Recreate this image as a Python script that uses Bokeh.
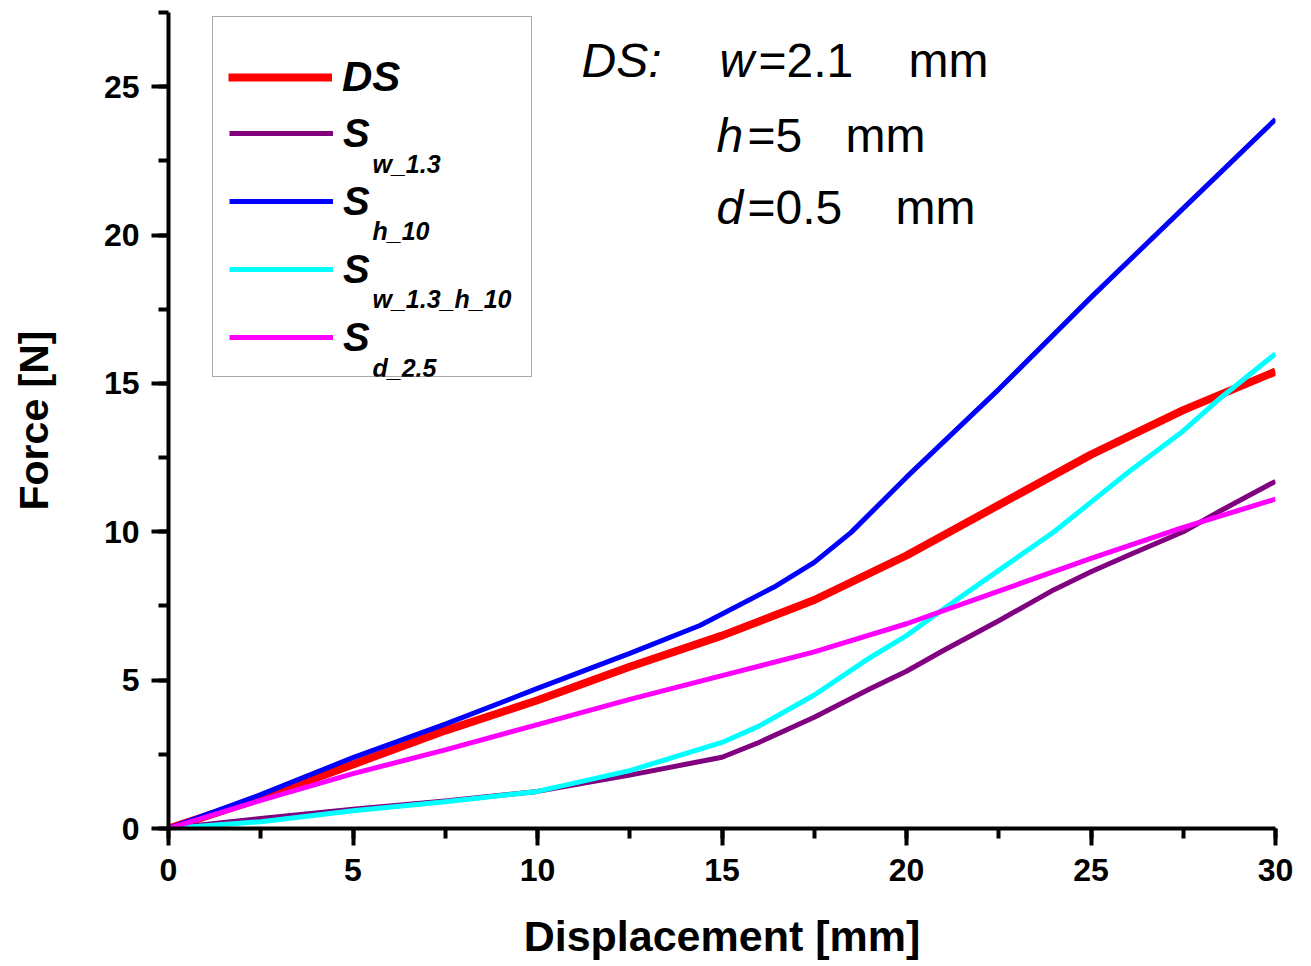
import math
from bokeh.plotting import figure
from bokeh.models import Range1d, SingleIntervalTicker, Legend, LegendItem, Label
from bokeh.embed import file_html
from bokeh.resources import INLINE

FONT = "Liberation Sans"

# ---- data ----
grid_x = [0, 2.5, 5, 7.5, 10, 12.5, 15, 17.5, 20, 22.5, 25, 27.5, 30]
ds_y = [0, 1.02, 2.16, 3.30, 4.32, 5.45, 6.50, 7.70, 9.20, 10.90, 12.60, 14.10, 15.40]
sd25_y = [0, 0.95, 1.85, 2.65, 3.50, 4.35, 5.15, 5.95, 6.90, 8.00, 9.10, 10.15, 11.10]

sh10_x = [0, 2.5, 5, 7.5, 10, 12.5, 14.4, 16.4, 17.5, 18.5, 20, 22.5, 25, 27.5, 30]
sh10_y = [0, 1.14, 2.39, 3.52, 4.72, 5.90, 6.84, 8.13, 8.97, 9.98, 11.84, 14.80, 17.90, 20.90, 23.90]

fine_x = [0, 2.5, 5, 7.5, 10, 12.5, 15, 16, 17.5, 19, 20, 21, 22.5, 24, 25, 26, 27.5, 28.5, 30]
sw13_y = [0, 0.34, 0.65, 0.93, 1.25, 1.80, 2.40, 2.90, 3.75, 4.70, 5.30, 6.00, 7.00, 8.05, 8.65, 9.20, 10.00, 10.70, 11.70]
sw13h10_y = [0, 0.23, 0.60, 0.90, 1.25, 1.95, 2.90, 3.45, 4.50, 5.75, 6.50, 7.40, 8.70, 10.00, 11.00, 12.00, 13.40, 14.50, 16.00]

x_ticks_interval = 5
y_ticks_interval = 5

# ---- figure ----
p = figure(width=1311, height=966, output_backend="svg", toolbar_location=None,
           x_range=Range1d(0, 30), y_range=Range1d(0, 27.5),
           min_border_left=168, min_border_right=36, min_border_top=12, min_border_bottom=138)
p.grid.visible = False
p.outline_line_color = None

for ax, iv in ((p.xaxis[0], x_ticks_interval), (p.yaxis[0], y_ticks_interval)):
    ax.ticker = SingleIntervalTicker(interval=iv, num_minor_ticks=2)
    ax.axis_line_width = 4
    ax.axis_line_color = "black"
    ax.major_tick_line_width = 4
    ax.minor_tick_line_width = 4
    ax.major_tick_line_color = "black"
    ax.minor_tick_line_color = "black"
    ax.major_tick_in = 0
    ax.minor_tick_in = 0
    ax.major_tick_out = 17
    ax.minor_tick_out = 10
    ax.major_label_text_font = FONT
    ax.major_label_text_font_size = "32px"
    ax.major_label_text_font_style = "bold"
    ax.major_label_text_color = "black"
    ax.axis_label_text_font = FONT
    ax.axis_label_text_font_style = "bold"
    ax.axis_label_text_color = "black"

p.xaxis.major_label_standoff = 13
p.yaxis.major_label_standoff = 12
p.xaxis.axis_label = "Displacement [mm]"
p.xaxis.axis_label_text_font_size = "43px"
p.xaxis.axis_label_standoff = 28
p.yaxis.axis_label = "Force [N]"
p.yaxis.axis_label_text_font_size = "41px"
p.yaxis.axis_label_standoff = 44

# ---- curves ----
r_ds = p.line(grid_x, ds_y, line_color="#FF0000", line_width=8, line_join="round")
r_w = p.line(fine_x, sw13_y, line_color="#800080", line_width=5, line_join="round")
r_h = p.line(sh10_x, sh10_y, line_color="#0000FF", line_width=5, line_join="round")
r_wh = p.line(fine_x, sw13h10_y, line_color="#00FFFF", line_width=5, line_join="round")
r_d = p.line(grid_x, sd25_y, line_color="#FF00FF", line_width=5, line_join="round")

# ---- legend ----
legA = Legend(items=[LegendItem(label="S", renderers=[r_w]),
                     LegendItem(label="S", renderers=[r_h]),
                     LegendItem(label="S", renderers=[r_wh]),
                     LegendItem(label="S", renderers=[r_d])],
              location=(44, 451), padding=16, spacing=22, margin=0,
              glyph_width=104, glyph_height=46, label_height=46, label_width=172,
              label_standoff=10, label_text_font=FONT, label_text_font_size="40px",
              label_text_font_style="bold italic", label_text_color="black",
              border_line_color="#555555", border_line_width=1.5,
              background_fill_color="white", background_fill_alpha=0.0,
              title=" ", title_text_font_size="10px", title_standoff=66)
legB = Legend(items=[LegendItem(label="DS", renderers=[r_ds])],
              location=(60, 727), padding=0, spacing=0, margin=0,
              glyph_width=104, glyph_height=46, label_height=46,
              label_standoff=10, label_text_font=FONT, label_text_font_size="42px",
              label_text_font_style="bold italic", label_text_color="black",
              border_line_color=None, background_fill_alpha=0.0)
p.add_layout(legA)
p.add_layout(legB)


def dx(px):
    return (px - 168) / 36.9


def dy(py):
    return (828 - py) / 29.68


subs = [("w_1.3", 163), ("h_10", 230), ("w_1.3_h_10", 298), ("d_2.5", 367)]
for txt, base in subs:
    p.add_layout(Label(x=dx(372), y=dy(base), text=txt, text_font=FONT,
                       text_font_size="25px", text_font_style="bold italic",
                       text_color="black", level="overlay",
                       text_baseline="alphabetic", text_align="left"))

# annotation text
notes = [("DS:", 581, 60, "italic"), ("w", 719, 60, "italic"), ("=2.1", 758, 60, "normal"),
         ("mm", 908, 60, "normal"),
         ("h", 716, 135, "italic"), ("=5", 747, 135, "normal"), ("mm", 845, 135, "normal"),
         ("d", 716, 207, "italic"), ("=0.5", 747, 207, "normal"), ("mm", 895, 207, "normal")]
for txt, px, py, style in notes:
    p.add_layout(Label(x=dx(px), y=dy(py), text=txt, text_font=FONT,
                       text_font_size="48px", text_font_style=style, text_color="black",
                       level="overlay", text_baseline="alphabetic", text_align="left"))

open("out.html", "w").write(file_html(p, INLINE))
